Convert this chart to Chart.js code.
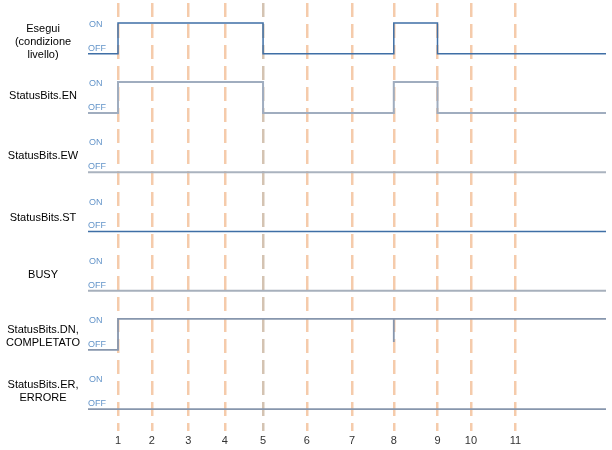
<!DOCTYPE html>
<html><head><meta charset="utf-8">
<script src="https://cdn.jsdelivr.net/npm/chart.js@4.4.0/dist/chart.umd.min.js"></script>
<style>html,body{margin:0;padding:0;background:#fff;} canvas{display:block;}</style>
</head><body>
<canvas id="c" width="612" height="450"></canvas>
<script>
// ---- data ----
const markerLabels = ['1','2','3','4','5','6','7','8','9','10','11'];
const markerTimes  = [1.00, 1.85, 2.77, 3.69, 4.65, 5.75, 6.89, 7.94, 9.04, 9.88, 11.00];
const signalNames = [
  ['Esegui','(condizione','livello)'],
  'StatusBits.EN',
  'StatusBits.EW',
  'StatusBits.ST',
  'BUSY',
  ['StatusBits.DN,','COMPLETATO'],
  ['StatusBits.ER,','ERRORE']
];
// transitions: [marker number, new level]; each signal starts OFF (0), ON = 1
const eseguiSteps = [[1,1],[5,0],[8,1],[9,0]];
const enSteps     = [[1,1],[5,0],[8,1],[9,0]];
const ewSteps     = [];
const stSteps     = [];
const busySteps   = [];
const dnSteps     = [[1,1],[8,0.25],[8,1]];
const erSteps     = [];
const levelLabels = ['ON','OFF'];

// ---- layout / style ----
const T_MIN = 0.245, T_MAX = 13.28;
const ROW_GAP = 1.915;
const Y_MAX = 1.74, Y_MIN = -12.2;
const allSteps = [eseguiSteps, enSteps, ewSteps, stSteps, busySteps, dnSteps, erSteps];
const lineColors = ['#3f6fa6','#a0adbf','#aab3bf','#3f6fa6','#a7b0bc','#8796ad','#8796ad'];
const lineWidths = [1.5, 2, 2, 1.5, 2, 1.8, 1.8];
const nameOffsets = [0.385, 0.55, 0.52, 0.45, 0.52, 0.44, 0.57];

function toPoints(steps, r) {
  const base = -r * ROW_GAP;
  const pts = [{x: T_MIN, y: base}];
  let last = 0;
  steps.forEach(([m, lvl]) => { pts.push({x: markerTimes[m-1], y: base + lvl}); last = lvl; });
  pts.push({x: T_MAX, y: base + last});
  return pts;
}

const datasets = allSteps.map((s, r) => ({
  data: toPoints(s, r),
  borderColor: lineColors[r],
  borderWidth: lineWidths[r],
  stepped: 'before',
  pointRadius: 0,
  fill: false,
  tension: 0
}));

const levelPlugin = {
  id: 'levelLabels',
  afterDatasetsDraw(chart) {
    const ctx = chart.ctx, y = chart.scales.y, left = chart.chartArea.left;
    ctx.save();
    ctx.font = '9px "Liberation Sans", Arial, sans-serif';
    ctx.fillStyle = '#6394c9';
    ctx.textAlign = 'left';
    ctx.textBaseline = 'middle';
    signalNames.forEach((n, r) => {
      const base = -r * ROW_GAP;
      ctx.fillText(levelLabels[0], left + 1, y.getPixelForValue(base + 0.95));
      ctx.fillText(levelLabels[1], left, y.getPixelForValue(base + 0.18));
    });
    ctx.restore();
  }
};

new Chart(document.getElementById('c'), {
  type: 'line',
  data: { datasets },
  plugins: [levelPlugin],
  options: {
    responsive: false,
    animation: false,
    devicePixelRatio: 1,
    layout: { padding: { left: 0, right: 6, top: 0, bottom: 0 } },
    plugins: { legend: { display: false }, tooltip: { enabled: false } },
    scales: {
      x: {
        type: 'linear',
        min: T_MIN, max: T_MAX,
        z: 1,
        afterBuildTicks(scale) { scale.ticks = markerTimes.map(v => ({ value: v })); },
        afterFit(scale) { scale.height = 19; scale.paddingLeft = 0; scale.paddingRight = 0; },
        ticks: {
          autoSkip: false, maxRotation: 0, padding: 3,
          color: '#333',
          font: { family: '"Liberation Sans", Arial, sans-serif', size: 11 },
          callback: (v, i) => markerLabels[i]
        },
        grid: {
          drawTicks: false,
          lineWidth: 2.5,
          color: ctx => ctx.index === 4 ? 'rgba(205,185,165,0.85)' : 'rgba(243,190,150,0.8)'
        },
        border: { display: false, dash: [14, 7], dashOffset: -3 }
      },
      y: {
        type: 'linear',
        min: Y_MIN, max: Y_MAX,
        afterBuildTicks(scale) { scale.ticks = signalNames.map((n, r) => ({ value: -r * ROW_GAP + nameOffsets[r] })); },
        afterFit(scale) { scale.width = 88; scale.paddingTop = 0; scale.paddingBottom = 0; },
        ticks: {
          crossAlign: 'center', padding: 8,
          color: '#000',
          font: { family: '"Liberation Sans", Arial, sans-serif', size: 11 },
          callback: (v, i) => signalNames[i]
        },
        grid: { display: false, drawTicks: false },
        border: { display: false }
      }
    }
  }
});
</script>
</body></html>
